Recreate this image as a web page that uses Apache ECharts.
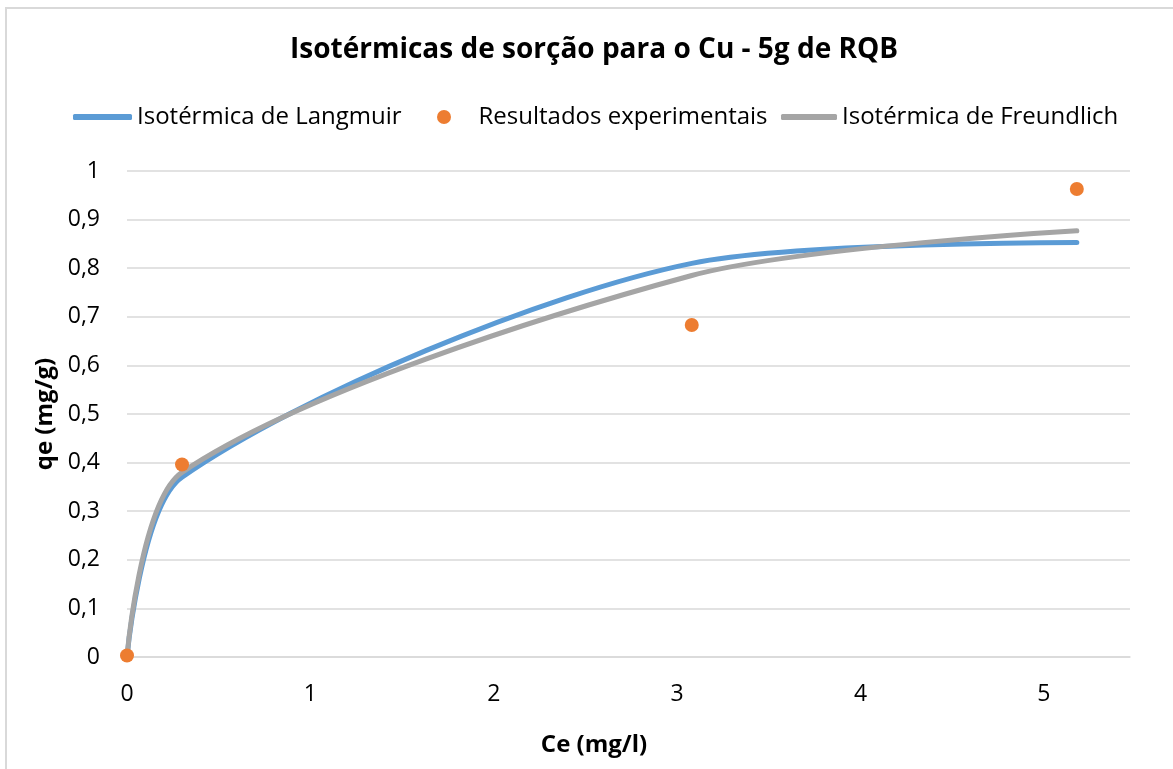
<!DOCTYPE html>
<html>
<head>
<meta charset="utf-8">
<title>Isotérmicas de sorção para o Cu - 5g de RQB</title>
<script src="https://cdn.jsdelivr.net/npm/echarts@6/dist/echarts.min.js"></script>
<style>
  html, body { margin: 0; padding: 0; background: #fff; }
  #main { width: 1173px; height: 769px; }
</style>
</head>
<body>
<div id="main"></div>
<script>
// Ce (mg/l) dos ensaios e qe (mg/g) medido / modelado
var ce = [0, 0.3, 3.08, 5.18];
var qeExperimental = [0.003, 0.396, 0.683, 0.963];
var qeLangmuir = [0, 0.37, 0.81, 0.853];
var qeFreundlich = [0, 0.38, 0.785, 0.877];

var seriesNames = ['Isotérmica de Langmuir', 'Resultados experimentais', 'Isotérmica de Freundlich'];

function pairs(ys) {
    return ce.map(function (x, i) { return [x, ys[i]]; });
}

var FONT = 'Open Sans';
var BLUE = '#5B9BD5', ORANGE = '#ED7D31', GRAY = '#A5A5A5';
var legendText = { fontFamily: FONT, fontSize: 24, color: '#000' };

var chart = echarts.init(document.getElementById('main'));
chart.setOption({
    backgroundColor: '#fff',
    animation: false,
    title: {
        text: 'Isotérmicas de sorção para o Cu - 5g de RQB',
        left: 290,
        top: 36,
        padding: 0,
        textStyle: { fontFamily: FONT, fontSize: 28, fontWeight: 'bold', color: '#000' }
    },
    legend: [{
        data: [{ name: seriesNames[0], icon: 'roundRect' }],
        left: 73, top: 105, padding: 0,
        itemWidth: 59, itemHeight: 6, itemGap: 0,
        textStyle: legendText
    }, {
        data: [{ name: seriesNames[1], icon: 'circle' }],
        left: 437, top: 105, padding: 0,
        itemWidth: 59, itemHeight: 14, itemGap: 0,
        textStyle: legendText
    }, {
        data: [{ name: seriesNames[2], icon: 'roundRect' }],
        left: 781, top: 105, padding: 0,
        itemWidth: 56, itemHeight: 6, itemGap: 0,
        textStyle: legendText
    }],
    grid: { left: 127, right: 43, top: 171, bottom: 112 },
    xAxis: {
        type: 'value',
        min: 0,
        max: 5.47,
        interval: 1,
        axisLine: { show: true, lineStyle: { color: '#D9D9D9', width: 1.5 } },
        axisTick: { show: false },
        splitLine: { show: false },
        axisLabel: {
            showMaxLabel: false,
            margin: 26,
            fontFamily: FONT, fontSize: 23, color: '#000'
        }
    },
    yAxis: {
        type: 'value',
        min: 0,
        max: 1,
        interval: 0.1,
        name: 'qe (mg/g)',
        nameLocation: 'middle',
        nameRotate: 90,
        nameGap: 65,
        nameTextStyle: { fontFamily: FONT, fontSize: 24, fontWeight: 'bold', color: '#000' },
        axisLine: { show: false },
        axisTick: { show: false },
        splitLine: { lineStyle: { color: '#D9D9D9', width: 1.5 } },
        axisLabel: {
            margin: 27,
            fontFamily: FONT, fontSize: 23, color: '#000',
            formatter: function (v) { return String(+v.toFixed(1)).replace('.', ','); }
        }
    },
    graphic: [{
        type: 'rect',
        shape: { x: 6, y: 8, width: 1220, height: 820 },
        style: { fill: 'none', stroke: '#D9D9D9', lineWidth: 2 },
        silent: true
    }, {
        type: 'text',
        x: 594, y: 745,
        style: {
            text: 'Ce (mg/l)',
            align: 'center', verticalAlign: 'middle',
            fontFamily: FONT, fontSize: 24, fontWeight: 'bold', fill: '#000'
        }
    }],
    series: [{
        name: seriesNames[0],
        type: 'line',
        data: pairs(qeLangmuir),
        smooth: 0.28,
        symbol: 'none',
        color: BLUE,
        lineStyle: { color: BLUE, width: 5, cap: 'round' },
        z: 2
    }, {
        name: seriesNames[1],
        type: 'scatter',
        data: pairs(qeExperimental),
        symbol: 'circle',
        symbolSize: 14,
        itemStyle: { color: ORANGE, opacity: 1 },
        z: 4
    }, {
        name: seriesNames[2],
        type: 'line',
        data: pairs(qeFreundlich),
        smooth: 0.28,
        symbol: 'none',
        color: GRAY,
        lineStyle: { color: GRAY, width: 5, cap: 'round' },
        z: 3
    }]
});
</script>
</body>
</html>
